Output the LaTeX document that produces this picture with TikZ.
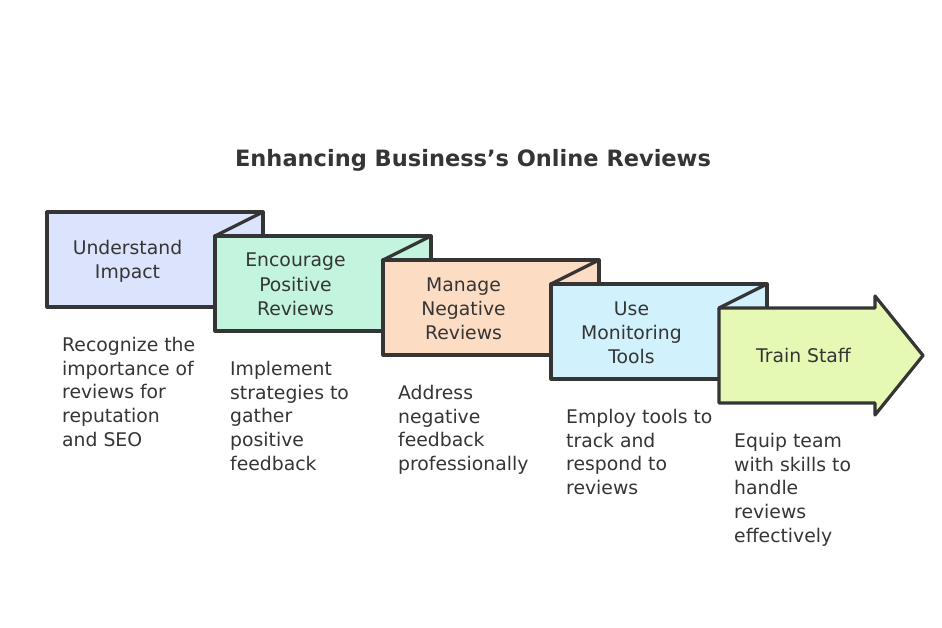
\documentclass[tikz,border=0pt]{standalone}
\usepackage{fontspec}
\setmainfont{DejaVu Sans}
\definecolor{ink}{HTML}{353535}
\definecolor{cA}{HTML}{DBE4FC}
\definecolor{cB}{HTML}{C3F5DE}
\definecolor{cC}{HTML}{FDDCC4}
\definecolor{cD}{HTML}{D1F1FC}
\definecolor{cE}{HTML}{E5F9B5}
\begin{document}
\begin{tikzpicture}[x=1pt,y=-1pt,
  stepbox/.style={draw=ink, line width=3.2pt, line join=round, minimum width=216pt,
    minimum height=95pt, inner sep=0pt, outer sep=0pt, anchor=north west},
  fold/.style={draw=ink, line width=3.2pt, line cap=round},
  lbl/.style={text=ink, align=center, font=\fontsize{18.8}{24}\selectfont, anchor=base, inner sep=0pt},
  desc/.style={text=ink, align=left, font=\fontsize{18.8}{23.7}\selectfont, anchor=base west, inner sep=0pt},
  ttl/.style={text=ink, font=\bfseries\fontsize{22.5}{26}\selectfont, anchor=base, inner sep=0pt}]
\fill[white] (0,0) rectangle (942,628);
\path[use as bounding box] (0,0) rectangle (942,628);

\node[ttl] (title) at (473,167) {Enhancing Business's Online Reviews};

\node[stepbox, fill=cA] (b1) at (47,212) {};
\node[stepbox, fill=cB] (b2) at (215,236) {};
\draw[fold] (b1.north east) -- (b2.north west);
\node[stepbox, fill=cC] (b3) at (383,260) {};
\draw[fold] (b2.north east) -- (b3.north west);
\node[stepbox, fill=cD] (b4) at (551,284) {};
\draw[fold] (b3.north east) -- (b4.north west);
\coordinate (b5) at (719,308);
\draw[draw=ink, line width=3.2pt, line join=round, fill=cE]
  (b5) -- (875,308) -- (875,296) -- (923,355.5) -- (875,415) -- (875,403) -- (719,403) -- cycle;
\draw[fold] (b4.north east) -- (b5);

% base anchor = baseline of last line
\node[lbl] (t1) at (127.5,279) {Understand\\Impact};
\node[lbl] (t2) at (295.5,315) {Encourage\\Positive\\Reviews};
\node[lbl] (t3) at (463.5,339) {Manage\\Negative\\Reviews};
\node[lbl] (t4) at (631.5,363) {Use\\Monitoring\\Tools};
\node[lbl] (t5) at (803.5,362) {Train Staff};

\node[desc] (d1) at (62,446.3) {Recognize the\\importance of\\reviews for\\reputation\\and SEO};
\node[desc] (d2) at (230,470.3) {Implement\\strategies to\\gather\\positive\\feedback};
\node[desc] (d3) at (398,470.6) {Address\\negative\\feedback\\professionally};
\node[desc] (d4) at (566,494.6) {Employ tools to\\track and\\respond to\\reviews};
\node[desc] (d5) at (734,542.3) {Equip team\\with skills to\\handle\\reviews\\effectively};
\end{tikzpicture}
\end{document}
